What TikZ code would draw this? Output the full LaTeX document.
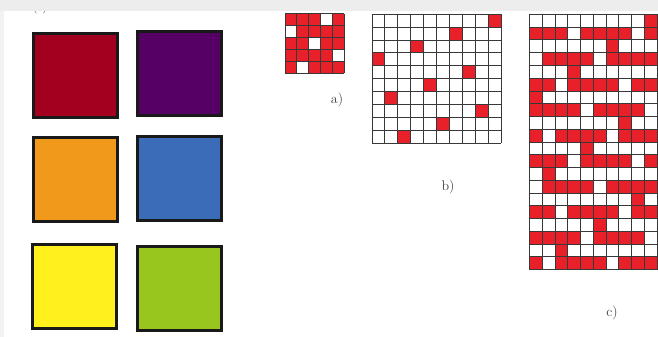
\documentclass[tikz,border=0pt]{standalone}
\usepackage{tikz}
\usetikzlibrary{positioning}
\definecolor{swred}{HTML}{A30020}
\definecolor{swpurple}{HTML}{560066}
\definecolor{sworange}{HTML}{F0991A}
\definecolor{swblue}{HTML}{3A6CB7}
\definecolor{swyellow}{HTML}{FFF01E}
\definecolor{swgreen}{HTML}{99C61E}
\definecolor{cellred}{HTML}{E8202A}
\tikzstyle{swatch} = [
    rectangle,
    minimum size=84pt,
    inner sep=0pt,
    line width=3pt,
    draw=black!90
]
\tikzstyle{label} = [
    font=\fontsize{14}{16}\selectfont,
    text=black!75,
    inner sep=0pt
]
\tikzstyle{cell} = [fill=cellred]
\tikzstyle{gridline} = [line width=1pt, draw=black!78]

\begin{document}
\begin{tikzpicture}[x=1pt, y=-1pt]

\useasboundingbox (0,0) rectangle (658,337);

\node (toplabel) [label] at (40,7) {( )};
\fill[black!7] (0,0) rectangle (658,11);
\fill[black!5] (0,11) rectangle (4,337);

\node (sqred) [swatch, fill=swred] at (75,75.5) {};

\node (sqpurple) [swatch, fill=swpurple] at (179.5,73.5) {};

\node (sqorange) [swatch, fill=sworange] at (75,179) {};

\node (sqblue) [swatch, fill=swblue] at (179,178.5) {};

\node (sqyellow) [swatch, fill=swyellow] at (74.5,286.5) {};

\node (sqgreen) [swatch, fill=swgreen] at (179.7,288) {};

\foreach \bits [count=\r] in {{1,1,1,0,1},{0,1,1,1,1},{1,1,0,1,1},
    {1,1,1,1,0},{1,0,1,1,1}}
    \foreach \b [count=\c] in \bits
        {\ifnum\b=1 \fill[cell] ({285+(\c-1)*11.8},{14+(\r-1)*11.8})
            rectangle ++(11.8,11.8);\fi}
\foreach \i in {0,...,5} {
    \draw[gridline] ({285+\i*11.8},14) -- ++(0,59);
    \draw[gridline] (285,{14+\i*11.8}) -- ++(59,0);
}

\foreach \c [count=\r] in {10,7,4,1,8,5,2,9,6,3}
    \fill[cell] ({372+(\c-1)*12.9},{14.3+(\r-1)*12.9}) rectangle ++(12.9,12.9);
\foreach \i in {0,...,10} {
    \draw[gridline] ({372+\i*12.9},14.3) -- ++(0,129);
    \draw[gridline] (372,{14.3+\i*12.9}) -- ++(129,0);
}

\foreach \bits [count=\r] in {
    {0,0,0,0,0,0,0,0,0,1},{1,1,1,0,1,1,1,1,0,1},
    {0,0,0,0,0,0,1,0,0,0},{0,1,1,1,1,0,1,1,1,1},
    {0,0,0,1,0,0,0,0,0,0},{1,1,0,1,1,1,1,0,1,1},
    {1,0,0,0,0,0,0,0,0,0},{1,1,1,1,0,1,1,1,1,0},
    {0,0,0,0,0,0,0,1,0,0},{1,0,1,1,1,1,0,1,1,1},
    {0,0,0,0,1,0,0,0,0,0},{1,1,1,0,1,1,1,1,0,1},
    {0,1,0,0,0,0,0,0,0,0},{0,1,1,1,1,0,1,1,1,1},
    {0,0,0,0,0,0,0,0,1,0},{1,1,0,1,1,1,1,0,1,1},
    {0,0,0,0,0,1,0,0,0,0},{1,1,1,1,0,1,1,1,1,0},
    {0,0,1,0,0,0,0,0,0,0},{1,0,1,1,1,1,0,1,1,1}}
    \foreach \b [count=\c] in \bits
        {\ifnum\b=1 \fill[cell] ({529.5+(\c-1)*12.75},{14.5+(\r-1)*12.75})
            rectangle ++(12.75,12.75);\fi}
\foreach \i in {0,...,10}
    \draw[gridline] ({529.5+\i*12.75},14.5) -- ++(0,255);
\foreach \i in {0,...,20}
    \draw[gridline] (529.5,{14.5+\i*12.75}) -- ++(127.5,0);

\node (lbla) [label] at (337,100) {a)};

\node (lblb) [label] at (448,187) {b)};

\node (lblc) [label] at (612,313) {c)};

\end{tikzpicture}
\end{document}
